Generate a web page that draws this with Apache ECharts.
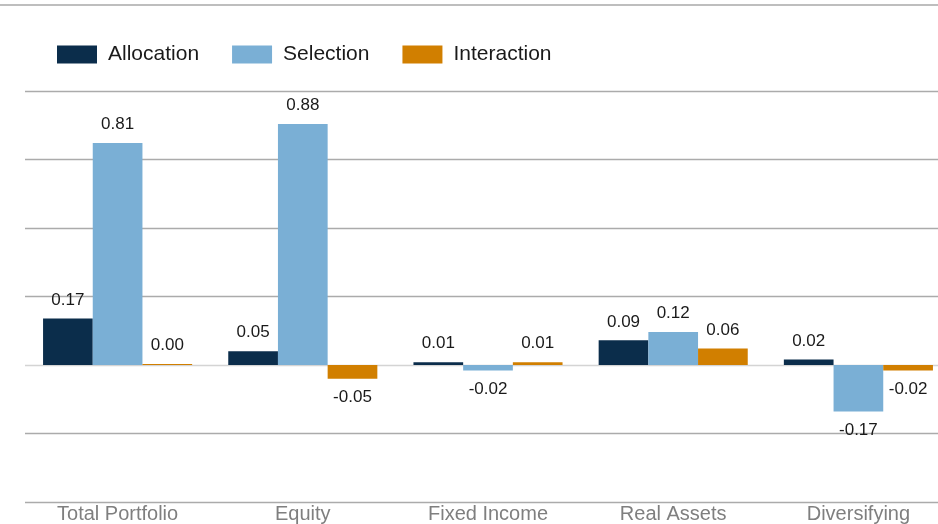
<!DOCTYPE html>
<html>
<head>
<meta charset="utf-8">
<script src="https://cdn.jsdelivr.net/npm/echarts@6/dist/echarts.min.js"></script>
<style>
html,body{margin:0;padding:0;background:#fff;overflow:hidden;}
#c{width:952px;height:524px;}
</style>
</head>
<body>
<div id="c"></div>
<script>
var categories = ['Total Portfolio', 'Equity', 'Fixed Income', 'Real Assets', 'Diversifying'];
var seriesNames = ['Allocation', 'Selection', 'Interaction'];
var allocation = [0.17, 0.05, 0.01, 0.09, 0.02];
var selection = [0.81, 0.88, -0.02, 0.12, -0.17];
var interaction = [0.004, -0.05, 0.01, 0.06, -0.02];
var yTicks = [-0.5, -0.25, 0, 0.25, 0.5, 0.75, 1.0];

var colors = ['#0b2d4b', '#7aafd5', '#d17f00'];
var FONT = 'Liberation Sans, Arial, sans-serif';

function mkData(arr) {
  return arr.map(function (v) {
    return {
      value: v,
      label: { position: v < 0 ? 'bottom' : 'top' }
    };
  });
}

var chart = echarts.init(document.getElementById('c'), null, { renderer: 'canvas' });
var seriesData = [allocation, selection, interaction];
var splitColors = yTicks.map(function (t) { return t === 0 ? '#d4d4d4' : '#ababab'; });

chart.setOption({
  animation: false,
  textStyle: { fontFamily: FONT },
  graphic: [{
    type: 'line',
    shape: { x1: 0, y1: 5, x2: 952, y2: 5 },
    style: { stroke: '#a8a8a8', lineWidth: 1.5 }
  }],
  legend: {
    left: 52,
    top: 39,
    itemWidth: 40,
    itemHeight: 18,
    itemGap: 33,
    icon: 'rect',
    data: seriesNames,
    textStyle: { fontSize: 21, color: '#1a1a1a', fontFamily: FONT, padding: [0, 0, 0, 6] }
  },
  grid: {
    left: 25,
    top: 91,
    right: 1,
    bottom: 20.5,
    containLabel: false
  },
  xAxis: {
    type: 'category',
    data: categories,
    axisLine: { show: false },
    axisTick: { show: false },
    axisLabel: { color: '#7f7f7f', fontSize: 20, margin: 2, fontFamily: FONT, interval: 0 }
  },
  yAxis: {
    type: 'value',
    min: yTicks[0],
    max: yTicks[yTicks.length - 1],
    interval: 0.25,
    axisLabel: { show: false },
    axisLine: { show: false },
    axisTick: { show: false },
    splitLine: { show: true, lineStyle: { color: splitColors, width: 1.3 } }
  },
  series: seriesData.map(function (arr, i) {
    return {
      name: seriesNames[i],
      type: 'bar',
      data: mkData(arr),
      barGap: '0%',
      barCategoryGap: '19.5%',
      itemStyle: { color: colors[i] },
      label: {
        show: true,
        distance: 10,
        fontSize: 17,
        color: '#1a1a1a',
        fontFamily: FONT,
        formatter: function (p) { return p.value.toFixed(2); }
      }
    };
  })
});
</script>
</body>
</html>
